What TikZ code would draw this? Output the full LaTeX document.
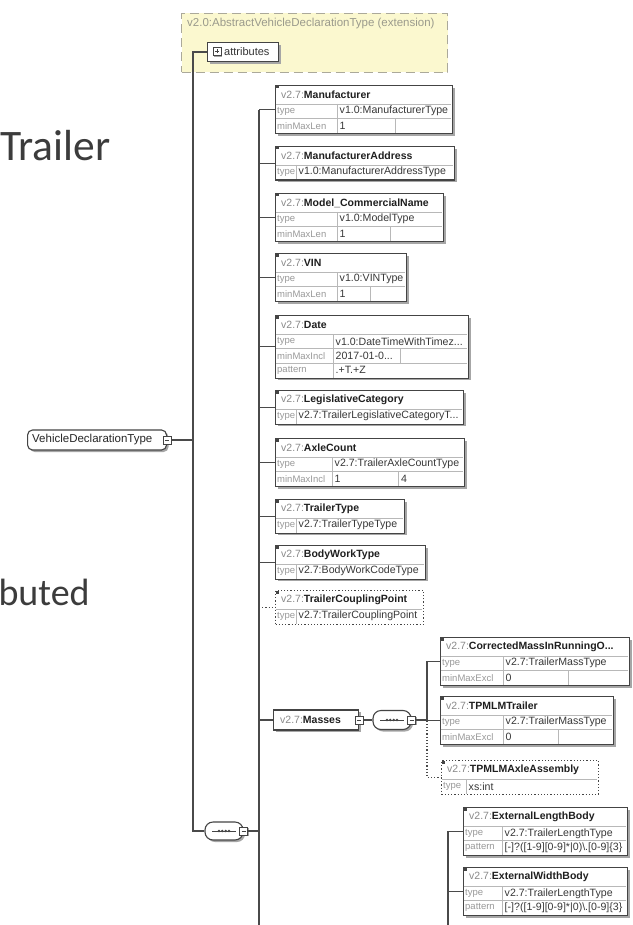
\documentclass[tikz,border=0pt]{standalone}
\usepackage{fontspec}
\setmainfont{Liberation Sans}
\newfontfamily\slidefont{Carlito}
\usetikzlibrary{shadows}

\definecolor{boxborder}{HTML}{444444}
\definecolor{linegray}{HTML}{4A4A4A}
\definecolor{gridgray}{HTML}{B8B8B8}
\definecolor{shadowgray}{HTML}{A6A6A6}
\definecolor{pregray}{HTML}{8A8A8A}
\definecolor{extfill}{HTML}{FBF8CF}
\definecolor{extborder}{HTML}{ABA99A}
\definecolor{exttext}{HTML}{9A9A8C}
\definecolor{slidetext}{HTML}{3C3C3C}

% header and row heights of an element box
\newcommand\hdrh{19}
\newcommand\rowh{14.5}

\tikzset{
  x=1pt, y=-1pt,
  shad/.style={drop shadow={shadow xshift=2pt, shadow yshift=-2pt, fill=shadowgray, opacity=1}},
  solidbox/.style={draw=boxborder, line width=1.1pt, fill=white, shad, inner sep=0pt},
  optbox/.style={draw=boxborder, line width=1.2pt, dotted, fill=white, inner sep=0pt},
  conn/.style={draw=linegray, line width=1.2pt},
  optconn/.style={conn, dotted},
  gridline/.style={draw=gridgray, line width=0.7pt},
  hdr/.style={font=\fontsize{10.5}{12}\selectfont, text=black!88, inner sep=0pt, anchor=west},
  lbl/.style={font=\fontsize{9.5}{11}\selectfont, text=black!40, inner sep=0pt, anchor=west},
  val/.style={font=\fontsize{10.6}{12}\selectfont, text=black!78, inner sep=0pt, anchor=west},
  icon/.style={draw=boxborder, fill=white, line width=0.8pt, minimum size=8pt, inner sep=0pt,
    drop shadow={shadow xshift=1.2pt, shadow yshift=-1.2pt, fill=shadowgray, opacity=1},
    path picture={\draw[boxborder, line width=0.9pt]
      ([xshift=2pt]path picture bounding box.west) -- ([xshift=-2pt]path picture bounding box.east);}},
  iconplus/.style={icon, path picture={\draw[boxborder, line width=0.9pt]
      ([xshift=2pt]path picture bounding box.west) -- ([xshift=-2pt]path picture bounding box.east)
      ([yshift=2pt]path picture bounding box.south) -- ([yshift=-2pt]path picture bounding box.north);}},
  slide/.style={inner sep=0pt, anchor=base west, text=slidetext},
  seqmark/.style={draw=boxborder, line width=1pt},
}

% element box: #1 style, #2 name, #3 x, #4 y, #5 width, #6 rows, #7 prefix, #8 element name
\newcommand\elembox[8][solidbox]{%
  \def\bn{#2}\def\bx{#3}\def\by{#4}\def\bw{#5}%
  \pgfmathsetmacro\bh{\hdrh+\rowh*#6}%
  \node[#1, minimum width=#5pt, minimum height=\bh pt, anchor=north west] (#2) at (#3,#4) {};
  \fill[boxborder] ({#3+0.5},{#4+0.5}) rectangle ++(3,3);
  \node[hdr] (#2-h) at ({#3+6},{#4+10}) {{\color{pregray}#7}\textbf{#8}};
}
% table row: #1 row, #2 label column width, #3 label, #4 value
\newcommand\erow[4]{%
  \pgfmathsetmacro\rt{\by+\hdrh+\rowh*(#1-1)}%
  \draw[gridline] ({\bx+0.6},\rt) -- ({\bx+\bw-0.6},\rt);
  \draw[gridline] ({\bx+#2},\rt) -- ({\bx+#2},{\rt+\rowh});
  \node[lbl] (\bn-l#1) at ({\bx+2},{\rt+\rowh/2}) {#3};
  \node[val] (\bn-v#1) at ({\bx+#2+2.5},{\rt+\rowh/2}) {#4};
}
% extra cell: #1 row, #2 column offset, #3 text
\newcommand\ecell[3]{%
  \pgfmathsetmacro\rt{\by+\hdrh+\rowh*(#1-1)}%
  \draw[gridline] ({\bx+#2},\rt) -- ({\bx+#2},{\rt+\rowh});
  \node[val] (\bn-c#1) at ({\bx+#2+3},{\rt+\rowh/2}) {#3};
}
% sequence compositor mark inside a capsule node
\newcommand\seqdots[1]{%
  \draw[seqmark] (#1.center) ++(-12,0) -- ++(24,0);
  \foreach \d in {-5,-1.7,1.7,5} \fill[boxborder] (#1.center) ++(\d,0) circle (1.4);
}

\begin{document}
\begin{tikzpicture}
\useasboundingbox (0,0) rectangle (632,925);
\fill[white] (0,0) rectangle (632,925);
\clip (0,0) rectangle (632,925);

% slide text behind the diagram
\node[slide, font=\slidefont\fontsize{43.5}{52}\selectfont] (title) at (0,161) {Trailer};
\node[slide, font=\slidefont\fontsize{38}{46}\selectfont] (body) at (-1.7,605) {buted};

% extension frame
\node[draw=extborder, line width=1pt, dash pattern=on 9pt off 5pt, fill=extfill,
      minimum width=266pt, minimum height=59pt, anchor=north west] (ext) at (181,13) {};
\node[inner sep=0pt, anchor=west, font=\fontsize{11.5}{13}\selectfont, text=exttext] (ext-t) at (187,24)
  {v2.0:AbstractVehicleDeclarationType (extension)};
\node[solidbox, minimum width=71pt, minimum height=19pt, anchor=north west] (attr) at (207,42) {};
\node[iconplus] (attr-i) at (217,51.5) {};
\node[inner sep=0pt, anchor=west, font=\fontsize{11}{13}\selectfont, text=black!80] (attr-t) at (224,51.5) {attributes};

% complex type
\node[solidbox, rounded corners=5pt, minimum width=139pt, minimum height=20pt, anchor=west] (vdt) at (27,440) {};
\node[inner sep=0pt, anchor=west, font=\fontsize{11.5}{13}\selectfont, text=black!85] (vdt-t) at (32,440) {VehicleDeclarationType};
\node[icon] (vdt-i) at (vdt.east) {};

% main sequence
\node[solidbox, rounded corners=8pt, minimum width=38pt, minimum height=18pt] (seq1) at (224,831) {};
\seqdots{seq1}
\node[icon] (seq1-i) at (seq1.east) {};

\coordinate (bus1) at (193,0);
\coordinate (bus2) at (259,930);
\coordinate (bus3) at (427,0);
\coordinate (bus4) at (448,930);

% child elements
\elembox{manuf}{275}{85}{177}{2}{v2.7:}{Manufacturer}
\erow{1}{62}{type}{v1.0:ManufacturerType}
\erow{2}{62}{minMaxLen}{1}
\ecell{2}{120}{}

\elembox{maddr}{275}{146}{179}{1}{v2.7:}{ManufacturerAddress}
\erow{1}{21}{type}{v1.0:ManufacturerAddressType}

\elembox{model}{275}{193}{168}{2}{v2.7:}{Model\_CommercialName}
\erow{1}{62}{type}{v1.0:ModelType}
\erow{2}{62}{minMaxLen}{1}
\ecell{2}{115}{}

\elembox{vin}{275}{253}{131}{2}{v2.7:}{VIN}
\erow{1}{62}{type}{v1.0:VINType}
\erow{2}{62}{minMaxLen}{1}
\ecell{2}{95}{}

\elembox{date}{275}{315}{193}{3}{v2.7:}{Date}
\erow{1}{58}{type}{v1.0:DateTimeWithTimez...}
\erow{2}{58}{minMaxIncl}{2017-01-0...}
\ecell{2}{125}{}
\erow{3}{58}{pattern}{.+T.+Z}

\elembox{legis}{275}{390}{188}{1}{v2.7:}{LegislativeCategory}
\erow{1}{21}{type}{v2.7:TrailerLegislativeCategoryT...}

\elembox{axle}{275}{438}{189}{2}{v2.7:}{AxleCount}
\erow{1}{57}{type}{v2.7:TrailerAxleCountType}
\erow{2}{57}{minMaxIncl}{1}
\ecell{2}{123}{4}

\elembox{ttype}{275}{499}{129}{1}{v2.7:}{TrailerType}
\erow{1}{21}{type}{v2.7:TrailerTypeType}

\elembox{body}{275}{545}{150}{1}{v2.7:}{BodyWorkType}
\erow{1}{21}{type}{v2.7:BodyWorkCodeType}

\elembox[optbox]{coupl}{275}{590}{148}{1}{v2.7:}{TrailerCouplingPoint}
\erow{1}{21}{type}{v2.7:TrailerCouplingPoint}

% masses group
\node[solidbox, minimum width=85pt, minimum height=20pt, anchor=west] (masses) at (273,720) {};
\node[hdr] (masses-t) at (280,720) {{\color{pregray}v2.7:}\textbf{Masses}};
\node[icon] (masses-i) at (masses.east) {};
\node[solidbox, rounded corners=8pt, minimum width=38pt, minimum height=19pt] (seq2) at (392,720) {};
\seqdots{seq2}
\node[icon] (seq2-i) at (seq2.east) {};

\elembox{corr}{440}{637}{189}{2}{v2.7:}{CorrectedMassInRunningO...}
\erow{1}{63}{type}{v2.7:TrailerMassType}
\erow{2}{63}{minMaxExcl}{0}
\ecell{2}{128}{}

\elembox{tpmlm}{440}{696}{173}{2}{v2.7:}{TPMLMTrailer}
\erow{1}{63}{type}{v2.7:TrailerMassType}
\erow{2}{63}{minMaxExcl}{0}
\ecell{2}{118}{}

\elembox[optbox]{axleasm}{441}{760}{157}{1}{v2.7:}{TPMLMAxleAssembly}
\erow{1}{25}{type}{xs:int}

% body dimensions
\elembox{extlen}{463}{807}{164}{2}{v2.7:}{ExternalLengthBody}
\erow{1}{39}{type}{v2.7:TrailerLengthType}
\erow{2}{39}{pattern}{[-]?([1-9][0-9]*|0)\textbackslash.[0-9]\{3\}}

\elembox{extwid}{463}{867}{164}{2}{v2.7:}{ExternalWidthBody}
\erow{1}{39}{type}{v2.7:TrailerLengthType}
\erow{2}{39}{pattern}{[-]?([1-9][0-9]*|0)\textbackslash.[0-9]\{3\}}

% connectors
\draw[conn] (attr.west) -- (attr.west -| bus1) -- (seq1.west -| bus1) -- (seq1.west);
\draw[conn] (vdt-i.east) -- (vdt-i.east -| bus1);
\draw[conn] (seq1-i.east) -- (seq1-i.east -| bus2);
\draw[conn] (manuf.west -| bus2) -- (bus2);
\foreach \n in {manuf,maddr,model,vin,date,legis,axle,ttype,body}
  \draw[conn] (\n.west -| bus2) -- (\n.west);
\draw[optconn] (coupl.west -| bus2) -- (coupl.west);
\draw[conn] (masses.west -| bus2) -- (masses.west);
\draw[conn] (masses-i.east) -- (seq2.west);
\draw[conn] (seq2-i.east) -- (seq2-i.east -| bus3);
\draw[conn] (corr.west) -- (corr.west -| bus3) -- (tpmlm.west -| bus3) -- (tpmlm.west);
\draw[optconn] (tpmlm.west -| bus3) -- (axleasm.west -| bus3) -- (axleasm.west);
\draw[conn] (extlen.west) -- (extlen.west -| bus4) -- (bus4);
\draw[conn] (extwid.west -| bus4) -- (extwid.west);
\end{tikzpicture}
\end{document}
